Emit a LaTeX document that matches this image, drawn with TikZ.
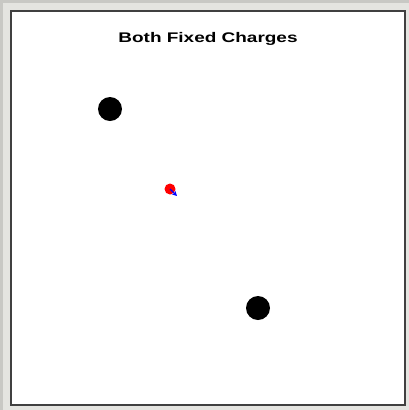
\documentclass[tikz,border=0pt]{standalone}
\usepackage{fontspec}
\setmainfont{Liberation Sans}
\usetikzlibrary{arrows.meta}
\definecolor{framegray}{HTML}{C8C8C4}
\definecolor{framelight}{HTML}{E4E4E0}
\definecolor{framedark}{HTML}{404040}
\begin{document}
\begin{tikzpicture}[x=1bp,y=-1bp,
  fixed/.style={circle, fill=black, minimum size=24bp, inner sep=0pt},
  probe/.style={circle, fill=red, minimum size=11bp, inner sep=0pt}]
  \useasboundingbox (0,0) rectangle (409,410);
  % window frame
  \fill[framegray] (0,0) rectangle (409,410);
  \fill[framelight] (3,3) rectangle (409,410);
  \fill[white] (10,10) rectangle (406,406);
  \draw[framedark, line width=2bp] (11,11) rectangle (405,405);
  \node[font=\bfseries\fontsize{14}{16}\selectfont, anchor=base] (title) at (208,42) {\scalebox{1.36}[1]{Both Fixed Charges}};
  % charges
  \node[fixed] (qa) at (110,109) {};
  \node[fixed] (qb) at (258,308) {};
  \node[probe] (qt) at (170,189) {};
  \coordinate (force) at (177,196);
  \draw[blue, line width=1.2bp, -{Stealth[length=5bp, width=5bp]}] (qt.center) -- (force);
\end{tikzpicture}
\end{document}
